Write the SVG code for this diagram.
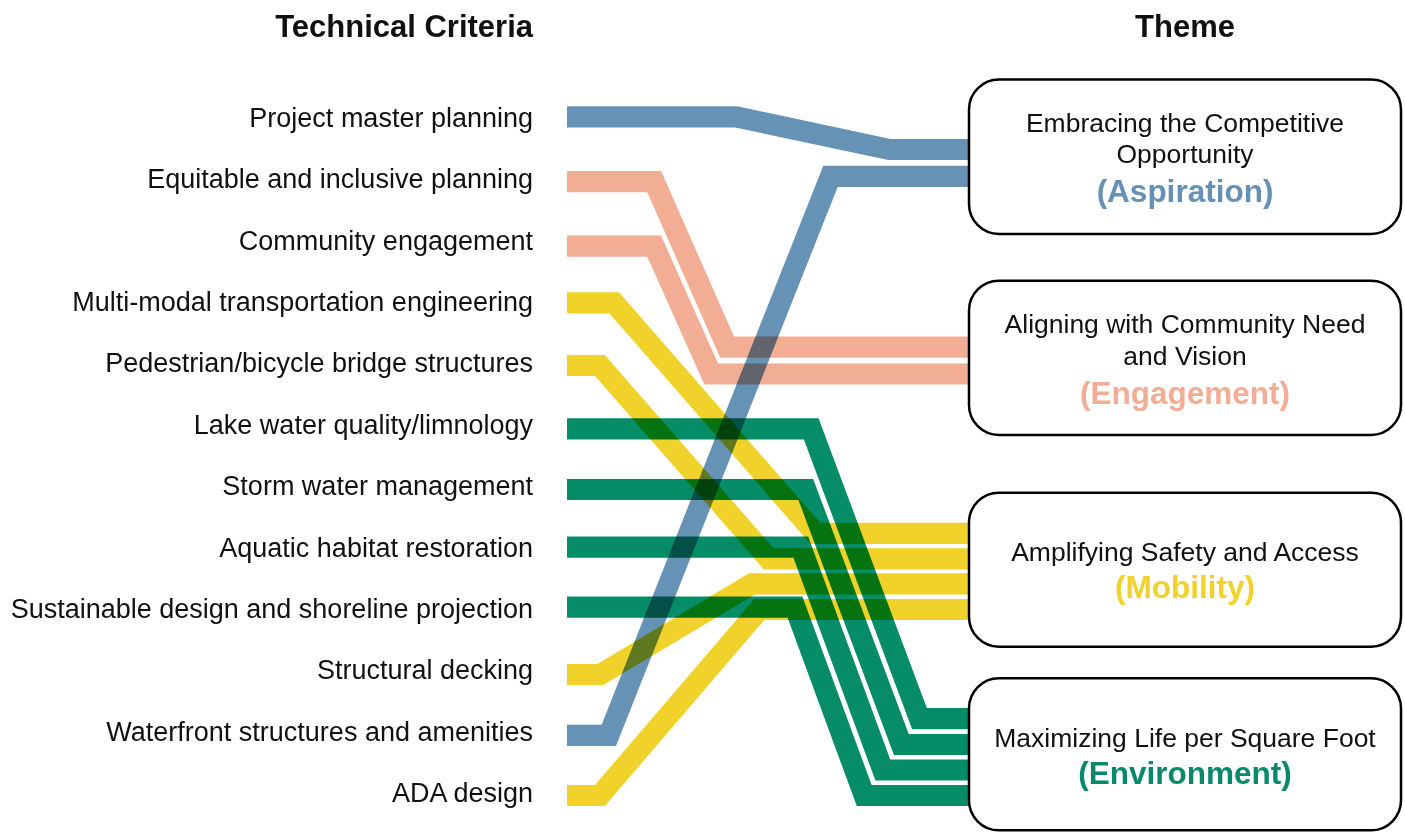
<svg xmlns="http://www.w3.org/2000/svg" width="1405" height="832" viewBox="0 0 1405 832">
<style>
.band{fill:none;stroke-width:21.2;stroke-linejoin:miter;stroke-linecap:butt;mix-blend-mode:multiply}
.blue{stroke:#6692b5}
.salmon{stroke:#f2ae95}
.yellow{stroke:#f0d22a}
.green{stroke:#068c66}
.lbl{font-family:"Liberation Sans",Arial,sans-serif;font-size:27px;fill:#111;text-anchor:end}
.hdr{font-family:"Liberation Sans",Arial,sans-serif;font-size:31px;font-weight:bold;fill:#111}
.box{fill:#fff;stroke:#000;stroke-width:2.5}
.bt{font-family:"Liberation Sans",Arial,sans-serif;font-size:26.5px;fill:#111;text-anchor:middle}
.bb{font-family:"Liberation Sans",Arial,sans-serif;font-size:31.5px;font-weight:bold;text-anchor:middle}
</style>
<rect x="0" y="0" width="1405" height="832" fill="#fff"/>
<g id="headers">
<text class="hdr" x="533" y="36.7" text-anchor="end">Technical Criteria</text>
<text class="hdr" x="1185" y="36.7" text-anchor="middle">Theme</text>
</g>
<g id="criteria">
<text class="lbl" x="533" y="126.7">Project master planning</text>
<text class="lbl" x="533" y="188.1">Equitable and inclusive planning</text>
<text class="lbl" x="533" y="249.5">Community engagement</text>
<text class="lbl" x="533" y="310.9">Multi-modal transportation engineering</text>
<text class="lbl" x="533" y="372.3">Pedestrian/bicycle bridge structures</text>
<text class="lbl" x="533" y="433.7">Lake water quality/limnology</text>
<text class="lbl" x="533" y="495.1">Storm water management</text>
<text class="lbl" x="533" y="556.5">Aquatic habitat restoration</text>
<text class="lbl" x="533" y="617.9">Sustainable design and shoreline projection</text>
<text class="lbl" x="533" y="679.3">Structural decking</text>
<text class="lbl" x="533" y="740.7">Waterfront structures and amenities</text>
<text class="lbl" x="533" y="802.1">ADA design</text>
</g>
<g id="connectors">
<polyline class="band blue" points="567,116.8 736.2,116.8 889.5,149.5 969,149.5"/>
<polyline class="band blue" points="567,735.3 608.8,735.3 830.5,176.3 969,176.3"/>
<polyline class="band salmon" points="567,181.7 654.2,181.7 727.2,347.2 969,347.2"/>
<polyline class="band salmon" points="567,246.2 654.2,246.2 711.2,374 969,374"/>
<polyline class="band yellow" points="567,302.8 614.2,302.8 815.3,533.3 969,533.3"/>
<polyline class="band yellow" points="567,365.5 600,365.5 768.8,558.8 969,558.8"/>
<polyline class="band yellow" points="567,674.5 600.3,674.5 752,583.8 969,583.8"/>
<polyline class="band yellow" points="567,795.5 600,795.5 759.2,609.5 969,609.5"/>
<polyline class="band green" points="567,428.8 811.2,428.8 919.5,718.7 969,718.7"/>
<polyline class="band green" points="567,489.5 805.8,489.5 901.3,744.5 969,744.5"/>
<polyline class="band green" points="567,547.2 800.8,547.2 882.8,770 969,770"/>
<polyline class="band green" points="567,607.2 795,607.2 864.2,795.5 969,795.5"/>
</g>
<g id="theme-aspiration">
<rect class="box" x="969" y="79.5" width="432" height="154.5" rx="30"/>
<text class="bt" x="1185" y="131.7">Embracing the Competitive</text>
<text class="bt" x="1185" y="163.3">Opportunity</text>
<text class="bb" x="1185" y="201.7" fill="#6591b7">(Aspiration)</text>
</g>
<g id="theme-engagement">
<rect class="box" x="969" y="280.7" width="432" height="154.3" rx="30"/>
<text class="bt" x="1185" y="333.3">Aligning with Community Need</text>
<text class="bt" x="1185" y="365">and Vision</text>
<text class="bb" x="1185" y="404" fill="#f2ad94">(Engagement)</text>
</g>
<g id="theme-mobility">
<rect class="box" x="969" y="492.7" width="432" height="154" rx="30"/>
<text class="bt" x="1185" y="561">Amplifying Safety and Access</text>
<text class="bb" x="1185" y="598.3" fill="#f1d12c">(Mobility)</text>
</g>
<g id="theme-environment">
<rect class="box" x="969" y="678.3" width="432" height="152" rx="30"/>
<text class="bt" x="1185" y="746.7">Maximizing Life per Square Foot</text>
<text class="bb" x="1185" y="784" fill="#07896a">(Environment)</text>
</g>
</svg>
